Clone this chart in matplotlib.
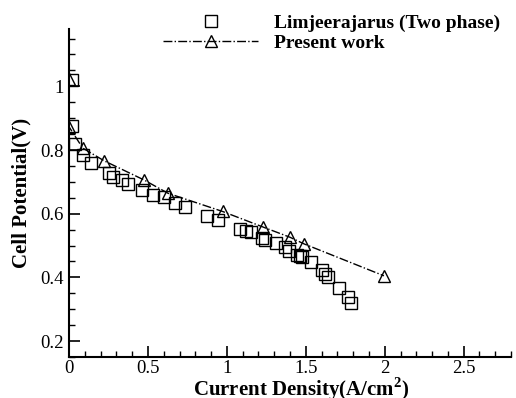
import matplotlib.pyplot as plt
from matplotlib.ticker import MultipleLocator

plt.rcParams['font.family'] = ['Liberation Serif', 'DejaVu Serif']
plt.rcParams['mathtext.fontset'] = 'custom'
plt.rcParams['mathtext.bf'] = 'Liberation Serif:bold'
plt.rcParams['mathtext.rm'] = 'Liberation Serif'

# Limjeerajarus (two phase) data
exp_i = [0.02, 0.017, 0.038, 0.087, 0.139, 0.253, 0.276, 0.333, 0.375, 0.46,
         0.53, 0.60, 0.671, 0.734, 0.877, 0.947, 1.084, 1.12, 1.156, 1.224,
         1.242, 1.31, 1.367, 1.394, 1.447, 1.462, 1.479, 1.535, 1.60, 1.62,
         1.64, 1.71, 1.767, 1.785]
exp_v = [1.021, 0.875, 0.818, 0.784, 0.758, 0.727, 0.716, 0.706, 0.693, 0.675,
         0.659, 0.652, 0.633, 0.622, 0.594, 0.579, 0.552, 0.547, 0.542, 0.523,
         0.516, 0.507, 0.494, 0.484, 0.471, 0.466, 0.464, 0.447, 0.424, 0.410,
         0.401, 0.366, 0.338, 0.321]

# present work
sim_i = [0.0, 0.0, 0.087, 0.223, 0.475, 0.628, 0.973, 1.23, 1.40, 1.49, 1.995]
sim_v = [1.023, 0.873, 0.806, 0.766, 0.706, 0.664, 0.607, 0.558, 0.526, 0.505, 0.405]

fig = plt.figure(figsize=(5.16, 3.98), dpi=100)
ax = fig.add_axes([69 / 516, 41 / 398, 442 / 516, 328 / 398])

ax.plot(exp_i, exp_v, ls='none', marker='s', ms=8, mfc='none', mec='black',
        mew=1.0, label='Limjeerajarus (Two phase)')
ax.plot(sim_i, sim_v, ls='-.', color='black', lw=1.0, marker='^', ms=9,
        mfc='none', mec='black', mew=1.0, label='Present work')

ax.set_xlim(0, 2.8)
ax.set_ylim(0.15, 1.18)
ax.xaxis.set_major_locator(MultipleLocator(0.5))
ax.xaxis.set_minor_locator(MultipleLocator(0.1))
ax.yaxis.set_major_locator(MultipleLocator(0.2))
ax.yaxis.set_minor_locator(MultipleLocator(0.05))
ax.set_xticks([0, 0.5, 1, 1.5, 2, 2.5])
ax.set_xticklabels(['0', '0.5', '1', '1.5', '2', '2.5'])
ax.set_yticks([0.2, 0.4, 0.6, 0.8, 1.0])
ax.set_yticklabels(['0.2', '0.4', '0.6', '0.8', '1'])

ax.spines['top'].set_visible(False)
ax.spines['right'].set_visible(False)
ax.spines['left'].set_linewidth(1.5)
ax.spines['bottom'].set_linewidth(1.5)
ax.tick_params(which='major', direction='in', length=8, width=1.2,
               labelsize=13.5, pad=4)
ax.tick_params(axis='x', which='major', pad=2.5)
ax.tick_params(which='minor', direction='in', length=4, width=1.0)

ax.set_xlabel(r'Current Density(A/cm$^\mathbf{2}$)', fontsize=15,
              fontweight='bold')
ax.xaxis.set_label_coords(0.525, -0.057)
ax.set_ylabel('Cell Potential(V)', fontsize=15, fontweight='bold', labelpad=6)

ax.legend(loc='upper left', bbox_to_anchor=(163 / 516, 1 - 14 / 398),
          bbox_transform=fig.transFigure, frameon=False, borderpad=0,
          borderaxespad=0, handlelength=4.9, handletextpad=0.8,
          labelspacing=0.15, prop={'weight': 'bold', 'size': 14})

fig.savefig('out.png', dpi=100)
